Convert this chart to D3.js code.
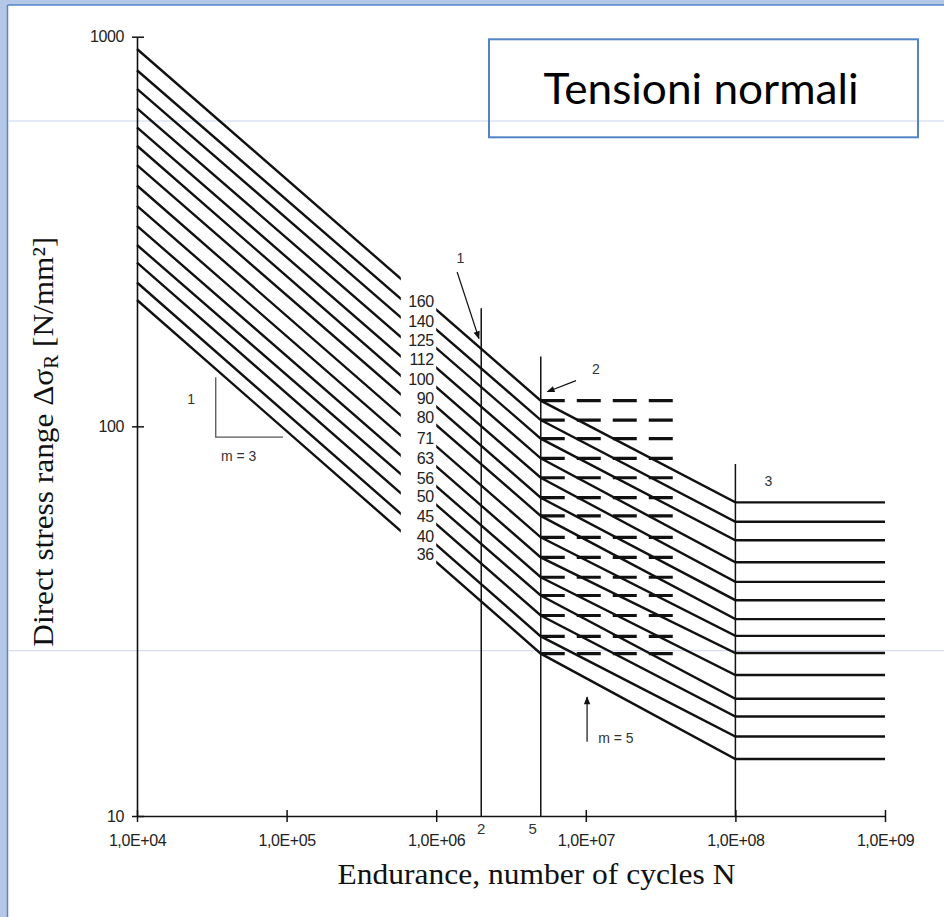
<!DOCTYPE html>
<html>
<head>
<meta charset="utf-8">
<script src="https://cdn.jsdelivr.net/npm/d3@7"></script>
<style>
  body { margin: 0; background: #fff; }
  svg { display: block; }
</style>
</head>
<body>
<script>
// detail categories and the curves
const categories = [160, 140, 125, 112, 100, 90, 80, 71, 63, 56, 50, 45, 40, 36]
// stress range at N = 1e4
const startRange = [930, 820, 735, 655, 585, 525, 468, 415, 368, 327, 292, 263, 234, 211]
// constant amplitude limit at N = 5e6
const kneeRange = [116.4, 103.8, 93.0, 82.8, 73.8, 65.6, 58.9, 51.9, 46.1, 41.0, 36.8, 32.7, 28.9, 26.1]
// cut-off limit at N = 1e8
const cutoffRange = [63.8, 56.9, 51.0, 44.8, 39.9, 35.8, 32.0, 29.0, 26.2, 23.0, 20.0, 18.0, 16.0, 14.0]

const nStart = 1e4
const nGapFrom = 5.8e5
const nGapTo = 1e6
const nKnee = 5e6
const nDashEnd = 3.83e7
const nCutoff = 1e8
const nEnd = 1e9

const xTickValues = [1e4, 1e5, 1e6, 1e7, 1e8, 1e9]
const xTickLabels = ['1,0E+04', '1,0E+05', '1,0E+06', '1,0E+07', '1,0E+08', '1,0E+09']
const yTickValues = [10, 100, 1000]

// vertical reference lines (N, top value, label under the axis)
const refN = [2e6, 5e6, 1e8]
const refTop = [201, 151, 80]
const refLabels = ['2', '5', '']

const W = 944
const H = 917

const svg = d3
  .select('body')
  .append('svg')
  .attr('width', W)
  .attr('height', H)

// slide frame
svg.append('rect').attr('width', W).attr('height', H).attr('fill', '#b4c7e7')
svg.append('rect').attr('x', 8).attr('y', 5).attr('width', W - 8).attr('height', H - 5).attr('fill', '#fff')
svg.append('line').attr('x1', 7.5).attr('x2', 7.5).attr('y1', 5).attr('y2', H)
  .attr('stroke', '#5585c8').attr('stroke-width', 1.5)
svg.append('line').attr('x1', 7.5).attr('x2', W).attr('y1', 5).attr('y2', 5)
  .attr('stroke', '#5585c8').attr('stroke-width', 1.5)

// faint guide lines of the slide
;[121, 650.7].forEach(gy => {
  svg.append('line')
    .attr('x1', 8).attr('x2', W)
    .attr('y1', gy).attr('y2', gy)
    .attr('stroke', '#c9d5ec').attr('stroke-width', 1)
})

const x = d3.scaleLog().domain([1e4, 1e9]).range([137, 885])
const y = d3.scaleLog().domain([10, 1000]).range([816, 36.7])

svg.append('defs').append('marker')
  .attr('id', 'head')
  .attr('viewBox', '0 0 10 10')
  .attr('refX', 9).attr('refY', 5)
  .attr('markerWidth', 10).attr('markerHeight', 8)
  .attr('markerUnits', 'userSpaceOnUse')
  .attr('orient', 'auto')
  .append('path')
  .attr('d', 'M0,1 L10,5 L0,9 Z')
  .attr('fill', '#111')

const plot = svg.append('g')

// S-N curves
const line = d3.line().x(d => x(d[0])).y(d => y(d[1]))

plot.selectAll('.curve')
  .data(categories)
  .enter()
  .append('path')
  .attr('class', 'curve')
  .attr('d', (d, i) => line([
    [nStart, startRange[i]],
    [nKnee, kneeRange[i]],
    [nCutoff, cutoffRange[i]],
    [nEnd, cutoffRange[i]]
  ]))
  .attr('fill', 'none')
  .attr('stroke', '#111')
  .attr('stroke-width', 2.4)

// gap for the category labels
plot.append('rect')
  .attr('x', x(nGapFrom))
  .attr('width', x(nGapTo) - x(nGapFrom))
  .attr('y', y(260))
  .attr('height', y(40) - y(260))
  .attr('fill', '#fff')

// dashed constant amplitude limits
plot.selectAll('.dash')
  .data(categories)
  .enter()
  .append('line')
  .attr('class', 'dash')
  .attr('x1', x(nKnee))
  .attr('x2', x(nDashEnd))
  .attr('y1', (d, i) => y(kneeRange[i]))
  .attr('y2', (d, i) => y(kneeRange[i]))
  .attr('stroke', '#111')
  .attr('stroke-width', 3.2)
  .attr('stroke-dasharray', '24,12')

// vertical reference lines
plot.selectAll('.ref')
  .data(refN)
  .enter()
  .append('line')
  .attr('class', 'ref')
  .attr('x1', d => x(d)).attr('x2', d => x(d))
  .attr('y1', (d, i) => y(refTop[i]))
  .attr('y2', y(10))
  .attr('stroke', '#111')
  .attr('stroke-width', 1.5)

plot.selectAll('.refLabel')
  .data(refN)
  .enter()
  .append('text')
  .attr('class', 'refLabel')
  .attr('x', (d, i) => x(d) + (i === 1 ? -8 : 0))
  .attr('y', y(10) + 18)
  .attr('text-anchor', 'middle')
  .attr('font-family', 'Liberation Sans, Arial, sans-serif')
  .attr('font-size', 15)
  .attr('fill', '#333')
  .text((d, i) => refLabels[i])

// category labels, sitting on their own curve in the gap
const labelX = x(9.6e5)
plot.selectAll('.catLabel')
  .data(categories)
  .enter()
  .append('text')
  .attr('class', 'catLabel')
  .attr('x', labelX)
  .attr('y', (d, i) => {
    const x0 = x(nStart), x1 = x(nKnee)
    const t = (labelX - x0) / (x1 - x0)
    return d3.interpolateNumber(y(startRange[i]), y(kneeRange[i]))(t)
  })
  .attr('text-anchor', 'end')
  .attr('font-family', 'Liberation Sans, Arial, sans-serif')
  .attr('font-size', 16)
  .attr('letter-spacing', -0.5)
  .attr('fill', '#222')
  .text(d => d)

// axes
const xAxis = d3.axisBottom(x)
  .tickValues(xTickValues)
  .tickFormat((d, i) => xTickLabels[i])
  .tickSizeOuter(0)

const gx = svg.append('g')
  .attr('transform', 'translate(0,' + y(10) + ')')
  .call(xAxis)
gx.select('.domain').attr('stroke', '#111').attr('stroke-width', 1.6)
gx.selectAll('.tick line').attr('y1', -6).attr('y2', 6).attr('stroke', '#111').attr('stroke-width', 1.5)
gx.selectAll('.tick text')
  .attr('y', 30).attr('dy', 0)
  .attr('font-family', 'Liberation Sans, Arial, sans-serif')
  .attr('font-size', 16)
  .attr('letter-spacing', -0.4)
  .attr('fill', '#222')

const yAxis = d3.axisLeft(y)
  .tickValues(yTickValues)
  .tickFormat(d3.format('d'))
  .tickSizeOuter(0)

const gy = svg.append('g')
  .attr('transform', 'translate(' + x(1e4) + ',0)')
  .call(yAxis)
gy.select('.domain').attr('stroke', '#111').attr('stroke-width', 1.6)
gy.selectAll('.tick line').attr('x1', -5).attr('x2', 7).attr('stroke', '#111').attr('stroke-width', 1.5)
gy.selectAll('.tick text')
  .attr('x', -13)
  .attr('font-family', 'Liberation Sans, Arial, sans-serif')
  .attr('font-size', 16)
  .attr('letter-spacing', -0.4)
  .attr('fill', '#222')

// axis titles
svg.append('text')
  .attr('x', 536.5)
  .attr('y', 884)
  .attr('text-anchor', 'middle')
  .attr('font-family', 'Liberation Serif, Times New Roman, serif')
  .attr('font-size', 29)
  .attr('textLength', 398)
  .attr('lengthAdjust', 'spacingAndGlyphs')
  .attr('fill', '#111')
  .text('Endurance, number of cycles N')

const yTitle = svg.append('text')
  .attr('transform', 'translate(53,441.7) rotate(-90)')
  .attr('text-anchor', 'middle')
  .attr('font-family', 'Liberation Serif, Times New Roman, serif')
  .attr('font-size', 30)
  .attr('textLength', 410)
  .attr('lengthAdjust', 'spacingAndGlyphs')
  .attr('fill', '#111')
yTitle.append('tspan').text('Direct stress range Δσ')
yTitle.append('tspan').attr('font-size', 20).attr('dy', 5).text('R')
yTitle.append('tspan').attr('dy', -5).text(' [N/mm²]')

// annotations
const note = (nx, v, txt) => svg.append('text')
  .attr('x', x(nx)).attr('y', y(v))
  .attr('font-family', 'Liberation Sans, Arial, sans-serif')
  .attr('font-size', 14)
  .attr('fill', '#333')
  .text(txt)

const arrow = (n1, v1, n2, v2) => svg.append('line')
  .attr('x1', x(n1)).attr('y1', y(v1))
  .attr('x2', x(n2)).attr('y2', y(v2))
  .attr('stroke', '#111')
  .attr('stroke-width', 1.2)
  .attr('marker-end', 'url(#head)')

arrow(1.38e6, 249, 1.93e6, 168)
note(1.45e6, 262, '1').attr('text-anchor', 'middle')
arrow(8.6e6, 131, 5.53e6, 122.7)
note(1.17e7, 136, '2').attr('text-anchor', 'middle')
note(1.66e8, 70.5, '3').attr('text-anchor', 'middle')
arrow(1.02e7, 15.5, 1.02e7, 20.2)
note(1.21e7, 15.4, 'm = 5')

// slope triangle m = 3
svg.append('path')
  .attr('d', line([[3.36e4, 133.6], [3.36e4, 93.8], [9.46e4, 93.8]]))
  .attr('fill', 'none')
  .attr('stroke', '#555')
  .attr('stroke-width', 1.3)
note(2.3e4, 114, '1').attr('text-anchor', 'middle')
note(3.64e4, 81.5, 'm = 3')

// title box
svg.append('rect')
  .attr('x', 489).attr('y', 39.3)
  .attr('width', 429).attr('height', 98)
  .attr('fill', 'none')
  .attr('stroke', '#5283c6')
  .attr('stroke-width', 2)

svg.append('text')
  .attr('x', 701).attr('y', 104)
  .attr('text-anchor', 'middle')
  .attr('font-family', 'Lato, Open Sans, sans-serif')
  .attr('font-size', 43)
  .attr('textLength', 315)
  .attr('lengthAdjust', 'spacingAndGlyphs')
  .attr('fill', '#000')
  .text('Tensioni normali')
</script>
</body>
</html>
